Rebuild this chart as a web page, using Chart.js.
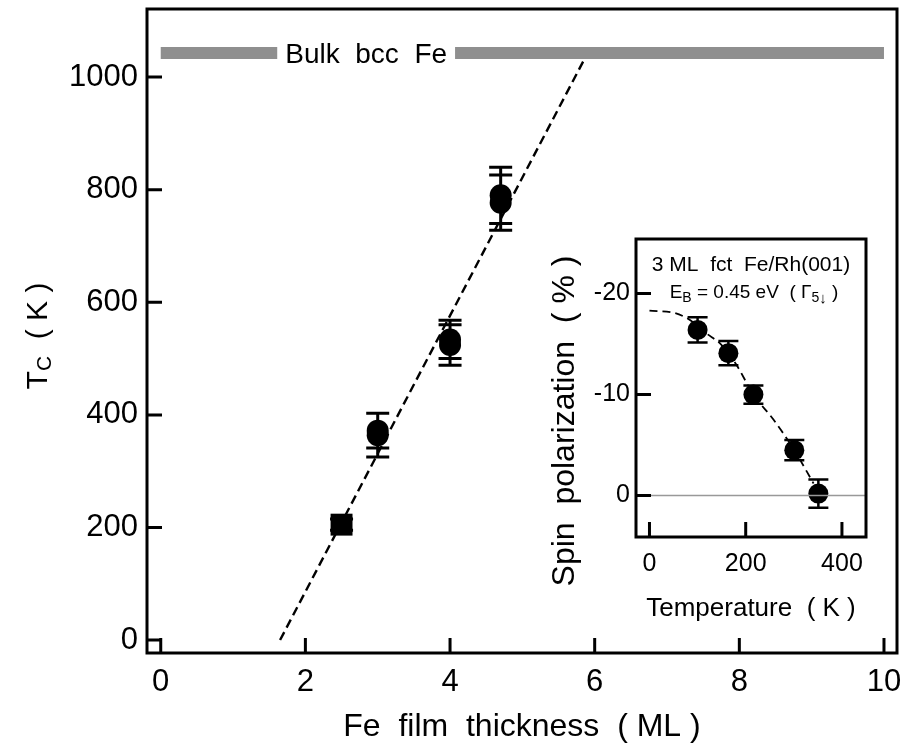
<!DOCTYPE html>
<html><head><meta charset="utf-8">
<script src="https://cdn.jsdelivr.net/npm/chart.js@4.4.1/dist/chart.umd.min.js"></script>
<style>
html,body{margin:0;padding:0;background:#fff;}
#wrap{position:relative;width:906px;height:746px;overflow:hidden;}
#main{position:absolute;left:0;top:0;}
#inset{position:absolute;left:540px;top:230px;}
</style></head><body>
<div id="wrap"><canvas id="main" width="906" height="746"></canvas><canvas id="inset" width="340" height="400"></canvas></div>
<script>
// ---- main panel data ----
const thicknessML = [2.5, 3.0, 3.0, 4.0, 4.0, 4.7, 4.7];
const curieTempK  = [205, 372, 364, 534, 524, 790, 777];
const curieErrK   = [10, 31, 39, 34, 36, 50, 49];
const markerShapes = ['rect', 'circle', 'circle', 'circle', 'circle', 'circle', 'circle'];
const markerSizes  = [15.5, 11, 11, 11, 11, 11, 11];
const fitLineX = [1.65, 5.85];
const fitLineY = [0, 1030];
const bulkTcK = 1043;
const bulkBarX = [0, 10];
const bulkLabel = 'Bulk  bcc  Fe';
const bulkLabelX = 2.84;
const mainXTicks = [0, 2, 4, 6, 8, 10];
const mainYTicks = [0, 200, 400, 600, 800, 1000];

// ---- inset data ----
const insetTempK = [100, 164, 216, 301, 351];
const spinPol    = [-16.4, -14.1, -10.0, -4.5, -0.2];
const spinPolErr = [1.25, 1.2, 0.9, 1.0, 1.4];
const guideTempK = [0, 50, 80, 120, 150, 180, 216, 258, 301, 341];
const guidePol   = [-18.3, -18.1, -17.5, -16.0, -14.9, -13.0, -10.0, -7.5, -4.5, -1.2];
const zeroLineX = [-28, 450];
const zeroLineY = [0, 0];
const insetXTicks = [0, 200, 400];
const insetYTicks = [-20, -10, 0];

const FONT = "'Liberation Sans', Arial, Helvetica, sans-serif";

function pts(xs, ys) { return xs.map((x, i) => ({x: x, y: ys[i]})); }
function noPad(s) {
  s.paddingTop = 0; s.paddingBottom = 0; s.paddingLeft = 0; s.paddingRight = 0;
  s.getPadding = () => ({left: 0, top: 0, right: 0, bottom: 0});
}

function framePlugin(tickLen, lw) {
  return {
    id: 'frameTicks',
    afterDraw(chart) {
      const ctx = chart.ctx, a = chart.chartArea;
      const xs = chart.scales.x, ys = chart.scales.y;
      ctx.save();
      ctx.strokeStyle = '#000';
      ctx.lineWidth = lw;
      ctx.lineCap = 'butt';
      ctx.strokeRect(a.left, a.top, a.right - a.left, a.bottom - a.top);
      ctx.beginPath();
      xs.ticks.forEach(t => {
        const px = xs.getPixelForValue(t.value);
        ctx.moveTo(px, a.bottom); ctx.lineTo(px, a.bottom - tickLen);
      });
      ys.ticks.forEach(t => {
        const py = ys.getPixelForValue(t.value);
        ctx.moveTo(a.left, py); ctx.lineTo(a.left + tickLen, py);
      });
      ctx.stroke();
      ctx.restore();
    }
  };
}

function errorBarPlugin(dsIndex, xs, ys, errs, capHalf, lw) {
  return {
    id: 'errBars' + dsIndex,
    beforeDatasetsDraw(chart) {
      const ctx = chart.ctx, sx = chart.scales.x, sy = chart.scales.y;
      ctx.save();
      ctx.strokeStyle = '#000';
      ctx.lineWidth = lw;
      ctx.beginPath();
      xs.forEach((x, i) => {
        const px = sx.getPixelForValue(x);
        const p1 = sy.getPixelForValue(ys[i] + errs[i]);
        const p2 = sy.getPixelForValue(ys[i] - errs[i]);
        ctx.moveTo(px, p1); ctx.lineTo(px, p2);
        ctx.moveTo(px - capHalf, p1); ctx.lineTo(px + capHalf, p1);
        ctx.moveTo(px - capHalf, p2); ctx.lineTo(px + capHalf, p2);
      });
      ctx.stroke();
      ctx.restore();
    }
  };
}

function drawRich(ctx, pieces, x, y, align) {
  let total = 0;
  pieces.forEach(p => { ctx.font = (p.bold ? 'bold ' : '') + p.size + 'px ' + FONT; total += ctx.measureText(p.t).width; });
  let cx = align === 'center' ? x - total / 2 : x;
  pieces.forEach(p => {
    ctx.font = (p.bold ? 'bold ' : '') + p.size + 'px ' + FONT;
    ctx.fillText(p.t, cx, y + (p.dy || 0));
    cx += ctx.measureText(p.t).width;
  });
}

const mainLabels = {
  id: 'mainLabels',
  afterDraw(chart) {
    const ctx = chart.ctx, sx = chart.scales.x, sy = chart.scales.y;
    ctx.save();
    ctx.textBaseline = 'alphabetic';
    ctx.font = '28px ' + FONT;
    const w = ctx.measureText(bulkLabel).width;
    const cx = sx.getPixelForValue(bulkLabelX), cy = sy.getPixelForValue(bulkTcK);
    ctx.fillStyle = '#fff';
    ctx.fillRect(cx - w / 2 - 8, cy - 8, w + 16, 16);
    ctx.fillStyle = '#000';
    ctx.textAlign = 'center';
    ctx.fillText(bulkLabel, cx, cy + 10);
    // y axis title T_C ( K )
    ctx.translate(36, 336);
    ctx.rotate(-Math.PI / 2);
    ctx.textAlign = 'left';
    drawRich(ctx, [
      {t: 'T', size: 30},
      {t: 'C', size: 21, dy: 4},
      {t: '  ( K )', size: 30}
    ], 0, 11, 'center');
    ctx.restore();
  }
};

new Chart(document.getElementById('main'), {
  type: 'scatter',
  data: {
    datasets: [
      {data: pts(bulkBarX, [bulkTcK, bulkTcK]), showLine: true, borderColor: '#8f8f8f', borderWidth: 12,
       borderCapStyle: 'butt', pointRadius: 0, fill: false},
      {data: pts(fitLineX, fitLineY), showLine: true, borderColor: '#000', borderWidth: 2.4,
       borderDash: [9, 5], pointRadius: 0, fill: false},
      {data: pts(thicknessML, curieTempK), pointStyle: markerShapes, pointRadius: markerSizes,
       backgroundColor: '#000', borderColor: '#000', borderWidth: 0}
    ]
  },
  options: {
    responsive: false, animation: false, devicePixelRatio: 1,
    layout: {autoPadding: false, padding: {top: 9, right: 9, left: 0, bottom: 0}},
    plugins: {legend: {display: false}, tooltip: {enabled: false}},
    scales: {
      x: {
        type: 'linear', min: -0.19, max: 10.18,
        afterBuildTicks: s => { s.ticks = mainXTicks.map(v => ({value: v})); },
        afterFit: s => { s.height = 93; noPad(s); },
        grid: {display: false, drawTicks: false}, border: {display: false},
        ticks: {color: '#000', font: {family: FONT, size: 31}, padding: 11, maxRotation: 0,
                callback: v => String(v)},
        title: {display: true, text: 'Fe  film  thickness  ( ML )', color: '#000',
                font: {family: FONT, size: 32}, padding: {top: 0, bottom: 0}}
      },
      y: {
        type: 'linear', min: -23, max: 1121,
        afterBuildTicks: s => { s.ticks = mainYTicks.map(v => ({value: v})); },
        afterFit: s => { s.width = 147; noPad(s); },
        grid: {display: false, drawTicks: false}, border: {display: false},
        ticks: {color: '#000', font: {family: FONT, size: 31}, padding: 9, callback: v => String(v)}
      }
    }
  },
  plugins: [errorBarPlugin(2, thicknessML, curieTempK, curieErrK, 11.5, 3), framePlugin(15, 3), mainLabels]
});

const insetLabels = {
  id: 'insetLabels',
  beforeDraw(chart) {
    const ctx = chart.ctx, a = chart.chartArea;
    ctx.save();
    ctx.fillStyle = '#fff';
    ctx.fillRect(a.left, a.top, a.right - a.left, a.bottom - a.top);
    ctx.restore();
  },
  afterDraw(chart) {
    const ctx = chart.ctx, a = chart.chartArea;
    const mid = (a.left + a.right) / 2;
    ctx.save();
    ctx.fillStyle = '#000';
    ctx.textBaseline = 'alphabetic';
    ctx.textAlign = 'center';
    ctx.font = '21px ' + FONT;
    ctx.fillText('3 ML  fct  Fe/Rh(001)', mid, a.top + 32);
    ctx.textAlign = 'left';
    drawRich(ctx, [
      {t: 'E', size: 19},
      {t: 'B', size: 14, dy: 4},
      {t: ' = 0.45 eV  ( \u0393', size: 19},
      {t: '5', size: 14, dy: 4},
      {t: '\u2193', size: 15, dy: 5, bold: true},
      {t: ' )', size: 19}
    ], mid + 3, a.top + 59, 'center');
    // y title
    ctx.translate(23, 191);
    ctx.rotate(-Math.PI / 2);
    ctx.textAlign = 'center';
    ctx.font = '32px ' + FONT;
    ctx.fillText('Spin  polarization  ( % )', 0, 11);
    ctx.restore();
  }
};

new Chart(document.getElementById('inset'), {
  type: 'scatter',
  data: {
    datasets: [
      {data: pts(zeroLineX, zeroLineY), showLine: true, borderColor: '#999', borderWidth: 1.5, pointRadius: 0},
      {data: pts(guideTempK, guidePol), showLine: true, borderColor: '#000', borderWidth: 1.8,
       borderDash: [8, 5], pointRadius: 0, cubicInterpolationMode: 'monotone'},
      {data: pts(insetTempK, spinPol), pointRadius: 10, pointStyle: 'circle',
       backgroundColor: '#000', borderColor: '#000', borderWidth: 0}
    ]
  },
  options: {
    responsive: false, animation: false, devicePixelRatio: 1,
    layout: {autoPadding: false, padding: {top: 9, right: 14, left: 0, bottom: 0}},
    plugins: {legend: {display: false}, tooltip: {enabled: false}},
    scales: {
      x: {
        type: 'linear', min: -28, max: 450,
        afterBuildTicks: s => { s.ticks = insetXTicks.map(v => ({value: v})); },
        afterFit: s => { s.height = 93; noPad(s); },
        grid: {display: false, drawTicks: false}, border: {display: false},
        ticks: {color: '#000', font: {family: FONT, size: 25}, padding: 12, maxRotation: 0},
        title: {display: true, text: 'Temperature  ( K )', color: '#000',
                font: {family: FONT, size: 26}, padding: {top: 0, bottom: 6}}
      },
      y: {
        type: 'linear', min: -25.4, max: 4.1, reverse: true,
        afterBuildTicks: s => { s.ticks = insetYTicks.map(v => ({value: v})); },
        afterFit: s => { s.width = 96; noPad(s); },
        grid: {display: false, drawTicks: false}, border: {display: false},
        ticks: {color: '#000', font: {family: FONT, size: 25}, padding: 6}
      }
    }
  },
  plugins: [errorBarPlugin(2, insetTempK, spinPol, spinPolErr, 10, 2.5), framePlugin(15, 3), insetLabels]
});
</script>
</body></html>
